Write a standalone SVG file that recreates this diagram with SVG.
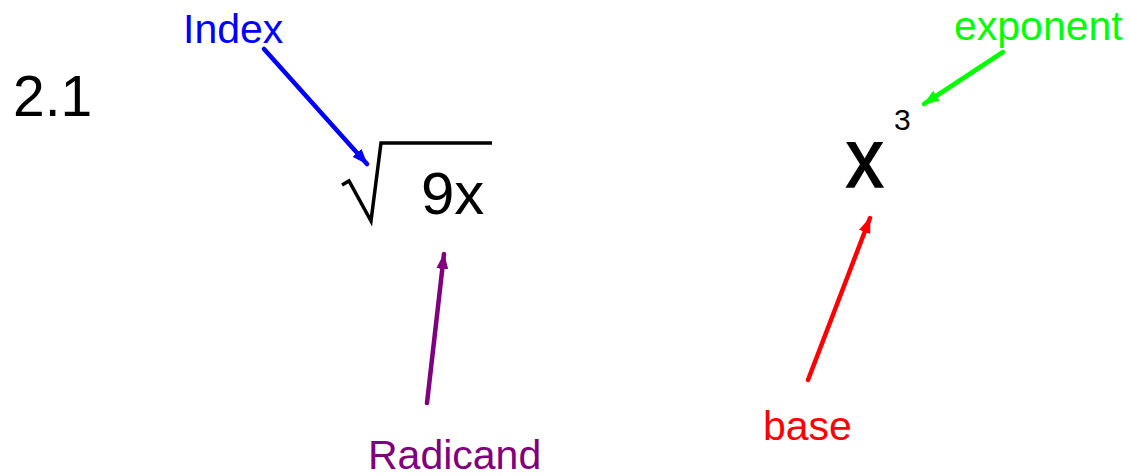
<svg xmlns="http://www.w3.org/2000/svg" width="1131" height="476" viewBox="0 0 1131 476">
<style>
text{font-family:"Liberation Sans",Arial,sans-serif}
.lbl{font-size:41px}
.conn{stroke-width:4.5;fill:none;stroke-linecap:round}
</style>
<defs>
<marker id="ab" viewBox="0 0 16 12" refX="15" refY="6" markerWidth="16" markerHeight="12" markerUnits="userSpaceOnUse" orient="auto"><path d="M0,0 L16,6 L0,12 Z" fill="#0000ff"/></marker>
<marker id="ag" viewBox="0 0 16 12" refX="15" refY="6" markerWidth="16" markerHeight="12" markerUnits="userSpaceOnUse" orient="auto"><path d="M0,0 L16,6 L0,12 Z" fill="#00ff00"/></marker>
<marker id="ap" viewBox="0 0 16 12" refX="15" refY="6" markerWidth="16" markerHeight="12" markerUnits="userSpaceOnUse" orient="auto"><path d="M0,0 L16,6 L0,12 Z" fill="#800080"/></marker>
<marker id="ar" viewBox="0 0 16 12" refX="15" refY="6" markerWidth="16" markerHeight="12" markerUnits="userSpaceOnUse" orient="auto"><path d="M0,0 L16,6 L0,12 Z" fill="#ff0000"/></marker>
</defs>
<rect width="1131" height="476" fill="#ffffff"/>
<g id="title"><text x="13" y="116" font-size="57">2.1</text></g>
<g id="radical">
<path d="M342,185 L349,181 L371,221 L381,143 L492,143" stroke="#000" stroke-width="3.5" fill="none" stroke-linejoin="miter"/>
<text x="421" y="214" font-size="60">9x</text>
</g>
<g id="power">
<text transform="translate(846,187) scale(1,1.12)" font-size="75" stroke="#000" stroke-width="1.5">x</text>
<text x="894" y="130" font-size="30">3</text>
</g>
<g id="index"><text class="lbl" x="183" y="43" fill="#0000ff">Index</text></g>
<g id="exponent"><text class="lbl" x="954" y="40" fill="#00ff00">exponent</text></g>
<g id="radicand"><text class="lbl" x="368" y="469" fill="#800080">Radicand</text></g>
<g id="base"><text class="lbl" x="763" y="440" fill="#ff0000">base</text></g>
<g id="connectors">
<line class="conn" x1="264" y1="49" x2="367" y2="164" stroke="#0000ff" marker-end="url(#ab)"/>
<line class="conn" x1="1003" y1="52" x2="924" y2="104" stroke="#00ff00" marker-end="url(#ag)"/>
<line class="conn" x1="427" y1="403" x2="444" y2="254" stroke="#800080" marker-end="url(#ap)"/>
<line class="conn" x1="808" y1="380" x2="870" y2="218" stroke="#ff0000" marker-end="url(#ar)"/>
</g>
</svg>
